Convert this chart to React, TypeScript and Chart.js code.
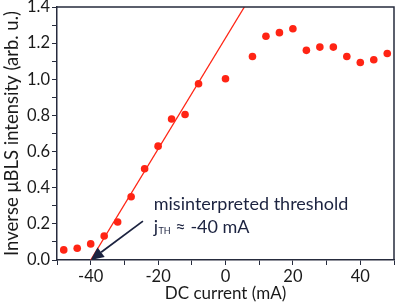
import React, { useEffect, useRef } from "react";
import { Chart, registerables } from "chart.js";

Chart.register(...registerables);

// ---- data ----
const currents = [-48, -44, -40, -36, -32, -28, -24, -20, -16, -12, -8, 0, 8, 12, 16, 20, 24, 28, 32, 36, 40, 44, 48];
const intensity = [0.056, 0.065, 0.089, 0.133, 0.21, 0.35, 0.505, 0.63, 0.78, 0.805, 0.975, 1.003, 1.126, 1.238, 1.258, 1.28, 1.16, 1.178, 1.178, 1.126, 1.093, 1.108, 1.143];
const fitX = [-40, 5.6];
const fitY = [0, 1.4];
const xLabelTicks = [-40, -20, 0, 20, 40];
const yLabelTicks = [0, 0.2, 0.4, 0.6, 0.8, 1.0, 1.2, 1.4];
const xTitle = "DC current (mA)";
const yTitle = "Inverse \u03bcBLS intensity (arb. u.)";
const noteLine1 = "misinterpreted threshold";
const noteJ = "j";
const noteSub = "TH";
const noteRest = " \u2248 -40 mA";
const noteAnchor = { x: -21.3, y: 0.275 }; // text position in data units
const arrowTail = { x: -24.5, y: 0.215 };
const arrowHead = { x: -40, y: 0 };

const RED = "#ff2414";
const AXIS = "#262b3d";
const NAVY = "#1c2340";
const FONT = "Lato, 'Open Sans', sans-serif";

const annotationPlugin = {
  id: "annot",
  afterDraw(chart: any) {
    const { ctx, chartArea, scales } = chart;
    const xs = scales.x;
    const ys = scales.y;
    ctx.save();
    // frame top/right
    ctx.strokeStyle = AXIS;
    ctx.lineWidth = 1.5;
    ctx.beginPath();
    ctx.moveTo(chartArea.left, chartArea.top);
    ctx.lineTo(chartArea.right, chartArea.top);
    ctx.lineTo(chartArea.right, chartArea.bottom);
    ctx.stroke();

    // arrow
    const hx = xs.getPixelForValue(arrowHead.x);
    const hy = ys.getPixelForValue(arrowHead.y);
    const tx = xs.getPixelForValue(arrowTail.x);
    const ty = ys.getPixelForValue(arrowTail.y);
    const ang = Math.atan2(hy - ty, hx - tx);
    const headLen = 13;
    const headW = 6;
    const bx = hx - headLen * Math.cos(ang);
    const by = hy - headLen * Math.sin(ang);
    ctx.strokeStyle = NAVY;
    ctx.fillStyle = NAVY;
    ctx.lineWidth = 1.8;
    ctx.beginPath();
    ctx.moveTo(tx, ty);
    ctx.lineTo(bx, by);
    ctx.stroke();
    ctx.beginPath();
    ctx.moveTo(hx, hy);
    ctx.lineTo(bx + headW * Math.sin(ang), by - headW * Math.cos(ang));
    ctx.lineTo(bx - headW * Math.sin(ang), by + headW * Math.cos(ang));
    ctx.closePath();
    ctx.fill();

    // text
    const ax = xs.getPixelForValue(noteAnchor.x);
    const ay = ys.getPixelForValue(noteAnchor.y);
    ctx.textAlign = "left";
    ctx.textBaseline = "alphabetic";
    ctx.font = `18px ${FONT}`;
    ctx.fillText(noteLine1, ax, ay);
    const y2 = ay + 23;
    ctx.fillText(noteJ, ax, y2);
    let cx = ax + ctx.measureText(noteJ).width + 0.5;
    ctx.font = `9px ${FONT}`;
    ctx.fillText(noteSub, cx, y2 + 1);
    cx += ctx.measureText(noteSub).width;
    ctx.font = `18px ${FONT}`;
    ctx.fillText(noteRest, cx, y2);
    ctx.restore();
  },
};

export default function App() {
  const ref = useRef<HTMLCanvasElement>(null);
  useEffect(() => {
    if (!ref.current) return;
    const chart = new Chart(ref.current, {
      type: "scatter",
      data: {
        datasets: [
          {
            type: "line",
            data: fitX.map((x, i) => ({ x, y: fitY[i] })),
            borderColor: RED,
            borderWidth: 1.3,
            pointRadius: 0,
            showLine: true,
            fill: false,
          },
          {
            data: currents.map((x, i) => ({ x, y: intensity[i] })),
            backgroundColor: RED,
            borderColor: RED,
            pointRadius: 3.8,
            pointBorderWidth: 0,
          },
        ],
      },
      options: {
        responsive: false,
        animation: false,
        layout: { padding: { top: 7, right: 3, left: 0, bottom: 0 } },
        plugins: { legend: { display: false }, tooltip: { enabled: false } },
        scales: {
          x: {
            type: "linear",
            min: -50,
            max: 50,
            afterFit: (s: any) => {
              s.height = 45;
              s.paddingLeft = 0;
              s.paddingRight = 0;
            },
            ticks: {
              stepSize: 10,
              autoSkip: false,
              maxRotation: 0,
              padding: 2,
              color: "#1a1a1a",
              font: { family: FONT, size: 16.5 },
              callback: (v: any) => (xLabelTicks.includes(Math.round(v)) ? String(Math.round(v)) : ""),
            },
            grid: { drawOnChartArea: false, drawTicks: true, tickLength: 5, color: AXIS, tickWidth: 1 },
            border: { display: true, color: AXIS, width: 1.5 },
            title: {
              display: true,
              text: xTitle,
              color: "#1a1a1a",
              font: { family: FONT, size: 17 },
              padding: { top: 0, bottom: 1 },
            },
          },
          y: {
            type: "linear",
            min: 0,
            max: 1.4,
            afterFit: (s: any) => {
              s.width = 57;
              s.paddingTop = 0;
              s.paddingBottom = 0;
            },
            ticks: {
              stepSize: 0.1,
              autoSkip: false,
              padding: 2,
              color: "#1a1a1a",
              font: { family: FONT, size: 16.5 },
              callback: (v: any) => {
                const r = Math.round(Number(v) * 10);
                return yLabelTicks.some((t) => Math.round(t * 10) === r) ? (r / 10).toFixed(1) : "";
              },
            },
            grid: { drawOnChartArea: false, drawTicks: true, tickLength: 5, color: AXIS, tickWidth: 1 },
            border: { display: true, color: AXIS, width: 1.5 },
            title: {
              display: true,
              text: yTitle,
              color: "#1a1a1a",
              font: { family: FONT, size: 18.5 },
              padding: { top: 1, bottom: 0 },
            },
          },
        },
      },
      plugins: [annotationPlugin],
    } as any);
    return () => chart.destroy();
  }, []);
  return (
    <div style={{ position: "absolute", left: 0, top: 0, width: 398, height: 305, background: "#fff" }}>
      <canvas ref={ref} width={398} height={305} style={{ display: "block" }} />
    </div>
  );
}
